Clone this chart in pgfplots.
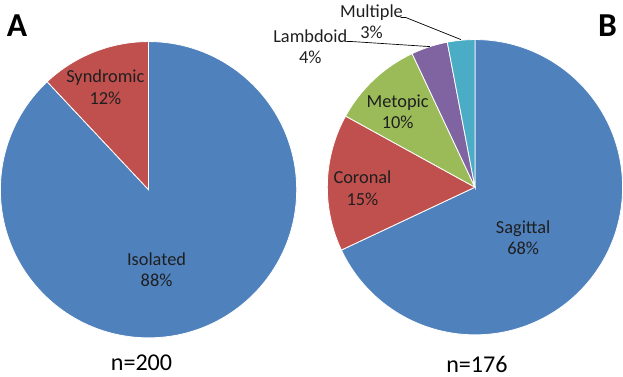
\documentclass[border=0pt]{standalone}
\usepackage{fontspec}
\setmainfont{Carlito}
\usepackage{pgfplots}
\pgfplotsset{compat=1.18}
\definecolor{pblue}{HTML}{4F81BD}
\definecolor{pred}{HTML}{C0504D}
\definecolor{pgreen}{HTML}{9BBB59}
\definecolor{ppurple}{HTML}{8064A2}
\definecolor{pcyan}{HTML}{4BACC6}
% #1 cx, #2 cy (axis units), #3 radius (pt), #4 start angle, #5 percent, #6 colour
\newcommand{\pieslice}[6]{%
  \addplot[fill=#6, draw=white, line width=0.6pt, mark=none] coordinates {(#1,#2)}
    -- ++(#4:#3) arc[start angle=#4, delta angle={-3.6*#5}, radius=#3] -- cycle;}
\begin{document}
\begin{tikzpicture}
\begin{axis}[x=0.75pt, y=0.75pt, xmin=0, xmax=623, ymin=0, ymax=367,
  hide axis, clip=false, scale only axis]
% Pie A (n=200): Isolated 88, Syndromic 12
\pieslice{149}{182.5}{110.625pt}{90}{88}{pblue}
\pieslice{149}{182.5}{110.625pt}{-226.8}{12}{pred}
% Pie B (n=176): Sagittal 68, Coronal 15, Metopic 10, Lambdoid 4, Multiple 3
\pieslice{474}{185}{110.25pt}{90}{68}{pblue}
\pieslice{474}{185}{110.25pt}{-154.8}{15}{pred}
\pieslice{474}{185}{110.25pt}{-208.8}{10}{pgreen}
\pieslice{474}{185}{110.25pt}{-244.8}{4}{ppurple}
\pieslice{474}{185}{110.25pt}{-259.2}{3}{pcyan}
% leader lines
\addplot[black, line width=0.5pt, mark=none] coordinates {(346,330) (352,330) (429,325)};
\addplot[black, line width=0.5pt, mark=none] coordinates {(400,354) (405,354) (460,332)};
% labels
\begin{scope}[every node/.style={font=\fontsize{13.7}{15.8}\selectfont, align=center, text=black!88}]
\node at (axis cs:106,284.5) {Syndromic\\12\%};
\node at (axis cs:157,103) {Isolated\\88\%};
\node at (axis cs:397,260) {Metopic\\10\%};
\node at (axis cs:362,184) {Coronal\\15\%};
\node at (axis cs:522,135) {Sagittal\\68\%};
\node at (axis cs:310,325) {Lambdoid\\4\%};
\node at (axis cs:371,350) {Multiple\\3\%};
\end{scope}
\node[font=\fontsize{25}{30}\selectfont\bfseries] at (axis cs:18,346) {A};
\node[font=\fontsize{25}{30}\selectfont\bfseries] at (axis cs:606,346) {B};
\node[font=\fontsize{18}{22}\selectfont] at (axis cs:142,10) {n=200};
\node[font=\fontsize{18}{22}\selectfont] at (axis cs:476,9) {n=176};
\end{axis}
\end{tikzpicture}
\end{document}
